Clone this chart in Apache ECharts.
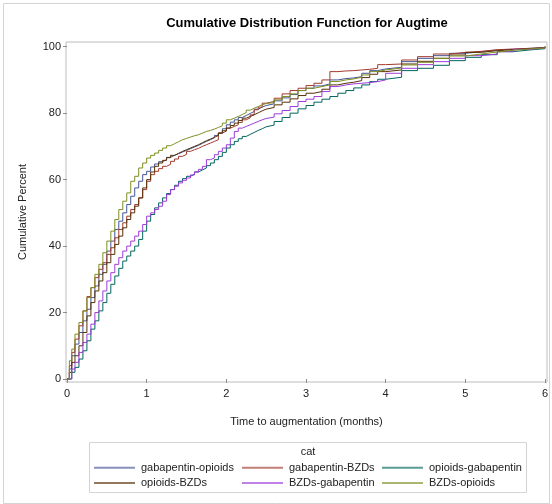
<!DOCTYPE html>
<html>
<head>
<meta charset="utf-8">
<title>Cumulative Distribution Function for Augtime</title>
<script src="https://cdn.jsdelivr.net/npm/echarts@6/dist/echarts.min.js"></script>
<style>
  html, body { margin: 0; padding: 0; background: #fff; }
  #chart { width: 552px; height: 504px; }
</style>
</head>
<body>
<div id="chart"></div>
<script>
// Time to augmentation (months) at which each empirical CDF is sampled
const months = [0, 0.03, 0.06, 0.1, 0.15, 0.2, 0.25, 0.3, 0.35, 0.4, 0.45, 0.5, 0.55, 0.6, 0.65, 0.7, 0.75, 0.8, 0.85, 0.9, 0.95, 1.0,
  1.05, 1.1, 1.15, 1.2, 1.25, 1.3, 1.35, 1.4, 1.45, 1.5, 1.55, 1.6, 1.65, 1.7, 1.75, 1.8, 1.85, 1.9, 1.95, 2.0,
  2.05, 2.1, 2.15, 2.2, 2.25, 2.3, 2.35, 2.4, 2.45, 2.5,
  2.6, 2.7, 2.8, 2.9, 3.0, 3.1, 3.2, 3.3, 3.4, 3.5, 3.6, 3.7, 3.8, 3.9, 4.0,
  4.2, 4.4, 4.6, 4.8, 5.0, 5.2, 5.4, 5.6, 5.8, 6.0];

// Cumulative percent for each category
const gabapentinOpioids = [0, 3, 7, 10.5, 14, 17.5, 21, 24.5, 28, 31.5, 34.5, 38.5, 41.5, 45, 47.5, 50, 52.5, 55, 57.5, 59.5, 61.5, 62.5,
  63.8, 64.7, 65.4, 66, 66.7, 67.3, 67.8, 68.3, 68.8, 69.3, 69.8, 70.3, 70.9, 71.5, 72, 72.6, 73.3, 74, 75.3, 76.5,
  77.3, 78, 78.7, 79.3, 79.9, 80.5, 81.2, 81.8, 82.3, 82.8,
  83.7, 84.6, 85.6, 86.8, 87.5, 88.2, 88.8, 90, 90.4, 90.6, 91, 92, 92.8, 93.3, 93.8,
  95.5, 96.5, 97.3, 98, 98.5, 99, 99.2, 99.5, 99.7, 100];

const gabapentinBZDs = [0, 4, 8, 12, 16, 20.5, 24.8, 27.5, 30.5, 33, 35, 37.5, 39.5, 42.5, 45, 47, 49, 51, 52.5, 54.5, 57, 59.5,
  61.5, 62.5, 63.3, 64, 64.6, 65.5, 66.2, 67, 67.6, 68.5, 69, 69.4, 70, 70.5, 71, 71.5, 72, 74, 74.6, 75.5,
  76, 76.5, 77.2, 78, 78.6, 79.5, 81, 81.8, 83, 83.5,
  84.5, 85.8, 86.8, 87.5, 88.3, 89, 90, 92.5, 92.7, 92.8, 93, 93.2, 93.5, 94.6, 94.8,
  96, 97, 97.8, 98.3, 98.6, 99.1, 99.3, 99.5, 99.7, 100];

const opioidsGabapentin = [0, 0, 2, 3.5, 6, 8.5, 11.5, 15, 17.5, 20.5, 23, 25.8, 28.5, 31, 33.3, 35.5, 37, 38.5, 40, 42, 44.5, 47.5,
  49.5, 51.5, 53, 54.5, 55.8, 57, 58.3, 59.5, 60.3, 61, 61.6, 62.3, 62.9, 63.5, 64.2, 65, 66, 67, 68.2, 69.5,
  70.5, 71.5, 72.3, 73, 73.6, 74.2, 74.8, 75.3, 75.9, 76.4,
  77.5, 78.7, 80, 81.3, 82.3, 83.3, 84.2, 85, 86, 86.8, 87.6, 88.5, 89.5, 90.2, 90.8,
  92.8, 93.5, 94.4, 95.8, 96.8, 97.6, 98.5, 99, 99.4, 99.8];

const opioidsBZDs = [0, 2, 5, 7, 10, 14, 19, 23, 26.5, 29.5, 32, 35, 37.5, 40.5, 43, 45.5, 48, 50, 52, 54.5, 57.5, 60,
  62.3, 64, 65, 65.8, 66.6, 67.3, 67.9, 68.5, 69, 69.5, 70, 70.5, 71.1, 71.7, 72.2, 72.7, 73.3, 74, 74.7, 75.5,
  76.3, 77, 77.8, 78.5, 79, 79.5, 80.1, 80.7, 81.2, 81.7,
  82.5, 83.3, 84.3, 85.3, 86, 86.5, 87.2, 88.5, 89, 89.3, 89.8, 90.7, 91.7, 92.5, 93,
  94.8, 95.6, 96.5, 97.5, 98.3, 98.8, 99.1, 99.4, 99.7, 100];

const bzdsGabapentin = [0, 0, 3, 5, 8, 11, 13.5, 16.5, 20, 23.5, 26.5, 29.5, 32, 34.5, 36.5, 38.5, 40, 41.5, 43, 44.5, 46.5, 49,
  50, 51, 52, 53.5, 55.5, 57, 58, 59, 59.8, 60.5, 61.4, 62.3, 63.1, 64, 66, 66.5, 67.5, 68.5, 69.5, 70.5,
  72.5, 74.5, 75.5, 76, 76.5, 77, 77.5, 78, 78.4, 78.8,
  79.8, 80.8, 82, 83.5, 84.2, 85, 86.5, 88, 88.5, 88.8, 89, 89.2, 89.5, 90, 92,
  93.5, 94.6, 95.5, 96.5, 97.3, 97.8, 98.5, 99.2, 99.6, 100];

const bzdsOpioids = [0, 5.5, 9, 13.5, 17, 20.5, 24.5, 27.5, 31.5, 34.5, 38, 41.5, 44.5, 48, 51, 53.5, 56, 59.5, 61, 63.5, 65, 66.5,
  67.3, 68, 68.8, 69.5, 70.2, 70.8, 71.4, 72, 72.4, 72.8, 73.2, 73.5, 74, 74.5, 74.8, 75.2, 75.7, 76.2, 77, 78,
  78.5, 79, 79.6, 80.2, 80.9, 81.5, 82, 82.5, 82.9, 83.2,
  84, 85, 85.8, 86.8, 87.5, 88, 88.5, 89.5, 90, 90.3, 90.8, 91.5, 92.5, 93, 93.6,
  94.5, 95.3, 96.5, 97.2, 97.8, 98.4, 98.9, 99.3, 99.6, 100];

const categories = ['gabapentin-opioids', 'gabapentin-BZDs', 'opioids-gabapentin', 'opioids-BZDs', 'BZDs-gabapentin', 'BZDs-opioids'];
const seriesValues = [gabapentinOpioids, gabapentinBZDs, opioidsGabapentin, opioidsBZDs, bzdsGabapentin, bzdsOpioids];
const colors = ['#445694', '#A23A2E', '#01665E', '#543005', '#9D3CDB', '#7F8E1F'];

const xTicks = [0, 1, 2, 3, 4, 5, 6];
const yTicks = [0, 20, 40, 60, 80, 100];

const FONT = '"Liberation Sans", Arial, Helvetica, sans-serif';
const TEXT = '#222';

const chart = echarts.init(document.getElementById('chart'), null, { renderer: 'canvas' });

const series = categories.map((name, k) => ({
  name,
  type: 'line',
  step: 'end',
  showSymbol: false,
  symbol: 'none',
  silent: true,
  animation: false,
  color: colors[k],
  lineStyle: { width: 1, color: colors[k] },
  data: months.map((t, i) => [t, seriesValues[k][i]])
}));

// Legend laid out in three columns of two entries
const legendColumns = [
  [categories[0], categories[3]],
  [categories[1], categories[4]],
  [categories[2], categories[5]]
];
const legendLeft = [94, 242, 382];
const legends = legendColumns.map((items, c) => ({
  data: items,
  orient: 'vertical',
  left: legendLeft[c],
  top: 460,
  padding: 0,
  itemGap: 0,
  itemWidth: 41,
  itemHeight: 2,
  icon: 'rect',
  selectedMode: false,
  itemStyle: { opacity: 0.65 },
  textStyle: { fontFamily: FONT, fontSize: 11, color: TEXT, lineHeight: 15.3, padding: [0, 0, 0, 1] }
}));

chart.setOption({
  animation: false,
  backgroundColor: '#fff',
  title: {
    text: 'Cumulative Distribution Function for Augtime',
    left: 307,
    top: 17,
    textAlign: 'center',
    padding: 0,
    textStyle: { fontFamily: FONT, fontSize: 13, fontWeight: 'bold', color: '#000' }
  },
  legend: legends,
  grid: {
    left: 66, right: 5, top: 42, bottom: 122,
    show: true,
    borderColor: '#bcbcbc',
    borderWidth: 1,
    backgroundColor: '#fff'
  },
  xAxis: {
    type: 'value',
    min: -0.01255,
    max: 6.0251,
    name: 'Time to augmentation (months)',
    nameLocation: 'middle',
    nameGap: 34,
    nameTextStyle: { fontFamily: FONT, fontSize: 11, color: TEXT },
    axisLine: { show: false },
    splitLine: { show: false },
    axisTick: { show: true, length: 4, lineStyle: { color: '#8c8c8c' }, customValues: xTicks },
    axisLabel: { fontFamily: FONT, fontSize: 11, color: TEXT, margin: 6, customValues: xTicks }
  },
  yAxis: {
    type: 'value',
    min: -0.903,
    max: 101.414,
    name: 'Cumulative Percent',
    nameLocation: 'middle',
    nameRotate: 90,
    nameGap: 38,
    nameTextStyle: { fontFamily: FONT, fontSize: 11, color: TEXT },
    axisLine: { show: false },
    splitLine: { show: false },
    axisTick: { show: true, length: 4, lineStyle: { color: '#8c8c8c' }, customValues: yTicks },
    axisLabel: { fontFamily: FONT, fontSize: 11, color: TEXT, margin: 5, customValues: yTicks }
  },
  graphic: [
    {
      type: 'rect',
      silent: true,
      shape: { x: 3.5, y: 3.5, width: 546, height: 500 },
      style: { fill: 'none', stroke: '#d4d4d4', lineWidth: 1 }
    },
    {
      type: 'rect',
      silent: true,
      shape: { x: 89.5, y: 442.5, width: 437, height: 50 },
      style: { fill: 'none', stroke: '#d4d4d4', lineWidth: 1 }
    },
    {
      type: 'text',
      silent: true,
      x: 308,
      y: 452,
      style: { text: 'cat', fontFamily: FONT, fontSize: 11, fill: TEXT, align: 'center', verticalAlign: 'middle' }
    }
  ],
  series
});
</script>
</body>
</html>
